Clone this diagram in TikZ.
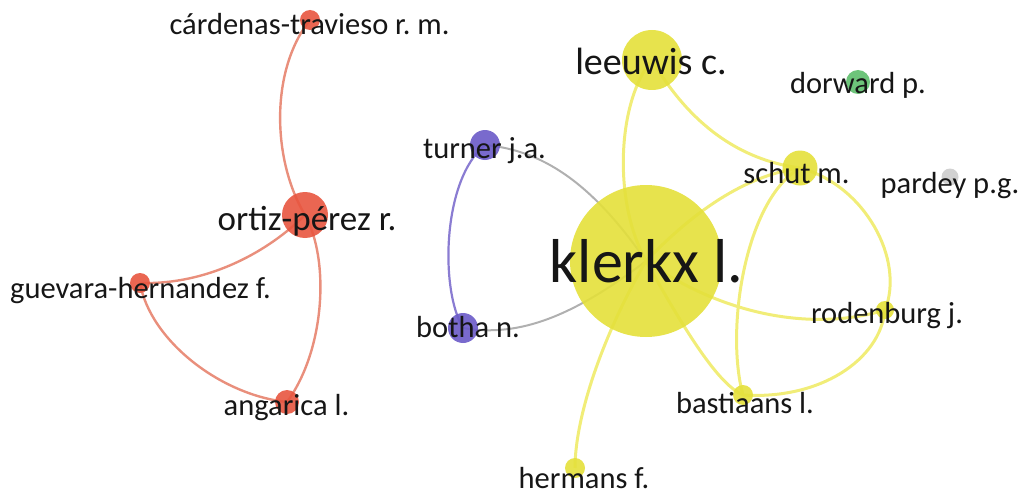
\documentclass[tikz,border=0pt]{standalone}
\usepackage{fontspec}
\setmainfont{Carlito}
\frenchspacing
\pgfdeclarelayer{bg}
\pgfsetlayers{bg,main}
\definecolor{ynode}{HTML}{E4E03A}
\definecolor{yedge}{HTML}{F1ED78}
\definecolor{rnode}{HTML}{E8553F}
\definecolor{redge}{HTML}{E98F7C}
\definecolor{pnode}{HTML}{6A5AC8}
\definecolor{pedge}{HTML}{8A7CD2}
\definecolor{gedge}{HTML}{B0B0B0}
\definecolor{gnnode}{HTML}{5DBE6B}
\definecolor{grnode}{HTML}{CCCCCC}
\definecolor{txt}{HTML}{161616}
\tikzset{
  dot/.style={circle, inner sep=0pt, fill opacity=0.9, minimum size=#1},
  lab/.style={anchor=base, inner sep=0pt, text=txt, font=\fontsize{30.5}{30.5}\selectfont},
  yl/.style={draw=yedge, line width=3pt},
  rl/.style={draw=redge, line width=2.4pt},
  pl/.style={draw=pedge, line width=2.2pt},
  gl/.style={draw=gedge, line width=2pt},
}
\begin{document}
\begin{tikzpicture}[x=1pt,y=-1pt]
\useasboundingbox (0,0) rectangle (1018,495);
% circles
\node[dot=20pt, fill=rnode] (card) at (310,20) {};
\node[dot=46pt, fill=rnode] (ortiz) at (305,215) {};
\node[dot=20pt, fill=rnode] (guev) at (140,283) {};
\node[dot=24pt, fill=rnode] (anga) at (287,402) {};
\node[dot=30pt, fill=pnode] (turn) at (485,145) {};
\node[dot=30pt, fill=pnode] (both) at (463,328) {};
\node[dot=152pt, fill=ynode] (klerkx) at (646,261) {};
\node[dot=60pt, fill=ynode] (leeu) at (652,60) {};
\node[dot=24pt, fill=gnnode] (dorw) at (858,82) {};
\node[dot=35pt, fill=ynode] (schut) at (800,168) {};
\node[dot=17pt, fill=grnode] (pard) at (950,177) {};
\node[dot=18pt, fill=ynode] (rode) at (885,310) {};
\node[dot=20pt, fill=ynode] (bast) at (743,395) {};
\node[dot=20pt, fill=ynode] (herm) at (575,468) {};
% labels
\node[lab] (cardL) at (309.5,35) {cárdenas-travieso r. m.};
\node[lab, font=\fontsize{35}{35}\selectfont] (ortizL) at (307,230) {ortiz-pérez r.};
\node[lab] (guevL) at (140.5,298) {guevara-hernandez f.};
\node[lab] (angaL) at (286.5,415) {angarica l.};
\node[lab] (turnL) at (484.5,158) {turner j.a.};
\node[lab] (bothL) at (468,337) {botha n.};
\node[lab, font=\fontsize{62}{62}\selectfont] (klerkxL) at (646.5,282) {klerkx l.};
\node[lab, font=\fontsize{38}{38}\selectfont] (leeuL) at (651,75) {leeuwis c.};
\node[lab] (dorwL) at (858,93) {dorward p.};
\node[lab] (schutL) at (796.5,183) {schut m.};
\node[lab] (pardL) at (950,193) {pardey p.g.};
\node[lab] (rodeL) at (887,323) {rodenburg j.};
\node[lab] (bastL) at (745,413) {bastiaans l.};
\node[lab] (hermL) at (584,488) {hermans f.};
% edges
\begin{pgfonlayer}{bg}
\draw[rl] (card.center) .. controls (270,70) and (272,160) .. (ortiz.center);
\draw[rl] (ortiz.center) .. controls (270,250) and (210,285) .. (guev.center);
\draw[rl] (ortiz.center) .. controls (330,260) and (325,350) .. (anga.center);
\draw[rl] (guev.center) .. controls (150,340) and (220,395) .. (anga.center);
\draw[pl] (turn.center) .. controls (442,180) and (440,290) .. (both.center);
\draw[gl] (turn.center) .. controls (540,150) and (590,180) .. (klerkx.center);
\draw[gl] (both.center) .. controls (520,338) and (575,315) .. (klerkx.center);
\draw[yl] (leeu.center) .. controls (618,100) and (612,200) .. (klerkx.center);
\draw[yl] (leeu.center) .. controls (690,125) and (740,160) .. (schut.center);
\draw[yl] (klerkx.center) .. controls (700,205) and (750,175) .. (schut.center);
\draw[yl] (schut.center) .. controls (865,185) and (905,260) .. (rode.center);
\draw[yl] (schut.center) .. controls (745,200) and (725,330) .. (bast.center);
\draw[yl] (klerkx.center) .. controls (730,320) and (820,330) .. (rode.center);
\draw[yl] (klerkx.center) .. controls (690,340) and (720,385) .. (bast.center);
\draw[yl] (rode.center) .. controls (880,360) and (820,400) .. (bast.center);
\draw[yl] (klerkx.center) .. controls (600,340) and (575,420) .. (herm.center);
\end{pgfonlayer}
\end{tikzpicture}
\end{document}
